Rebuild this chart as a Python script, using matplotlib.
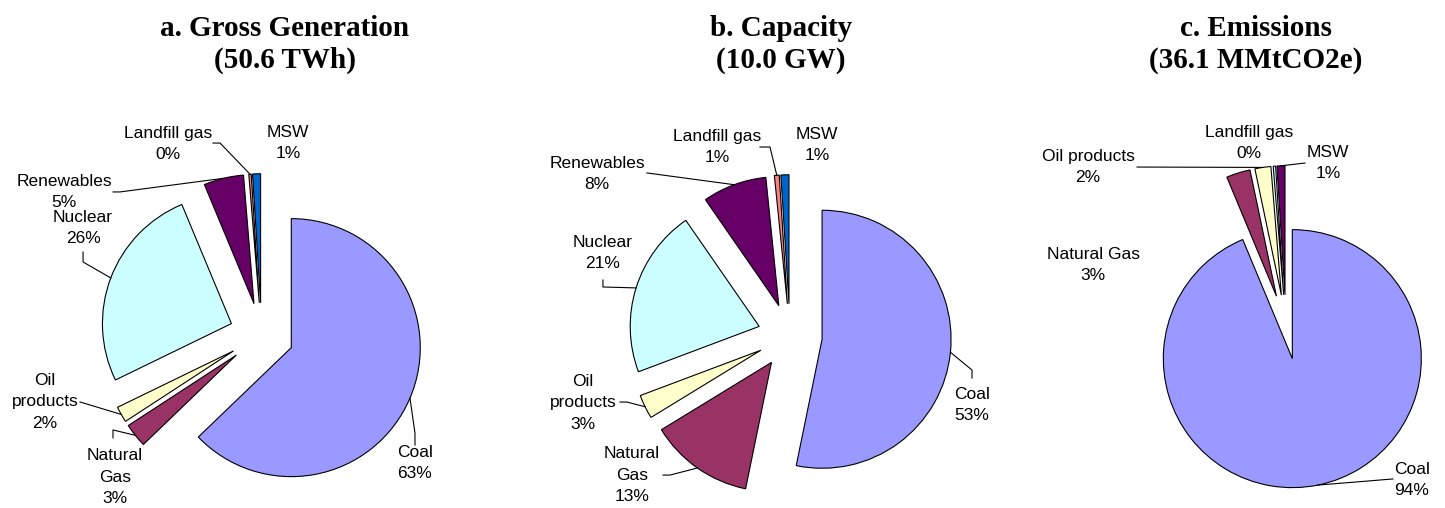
import numpy as np
import matplotlib
matplotlib.use("Agg")
import matplotlib.pyplot as plt

# ---------------------------------------------------------
# DATA (shares in percent)
# ---------------------------------------------------------
cats_ab = ['Coal', 'Natural Gas', 'Oil products', 'Nuclear', 'Renewables', 'Landfill gas', 'MSW']
gen_share = [63, 3, 2, 26, 5, 0.3, 1]
cap_share = [53, 13, 3, 21, 8, 0.6, 1]

cats_c = ['Coal', 'Natural Gas', 'Oil products', 'Landfill gas', 'MSW']
emis_share = [94, 3, 2, 0.3, 1]

titles = ['a. Gross Generation\n(50.6 TWh)',
          'b. Capacity\n(10.0 GW)',
          'c. Emissions\n(36.1 MMtCO2e)']

# Excel-style default palette, assigned by slice position
palette = ['#9999FF', '#993366', '#FFFFCC', '#CCFFFF', '#660066', '#FF8080', '#0066CC']

# ---------------------------------------------------------
# LAYOUT (pixels / data units, not data)
# ---------------------------------------------------------
W, H = 1445, 508
SCALE = 129.0          # pixels per pie radius
HALF = 250             # half size of each axes box in px
centers_px = [(261.6, 335), (790, 336), (1286, 327)]
title_x = [285, 781, 1256]

wrap = {'Natural Gas': 'Natural\nGas', 'Oil products': 'Oil\nproducts'}

# label position, leader-line tail points (to which the wedge point is appended)
layout_a = {
    'Coal':         ((1.189, -0.992), [(1.189, -0.853), (1.189, -0.76)]),
    'Natural Gas':  ((-1.136, -1.101), [(-1.152, -0.798), (-1.152, -0.736)]),
    'Oil products': ((-1.679, -0.519), [(-1.408, -0.519)]),
    'Nuclear':      ((-1.384, 0.829), [(-1.384, 0.643), (-1.384, 0.566)]),
    'Renewables':   ((-1.531, 1.109), [(-1.151, 1.109), (-1.098, 1.109)]),
    'Landfill gas': ((-0.726, 1.481), [(-0.377, 1.488), (-0.322, 1.488)]),
    'MSW':          ((0.205, 1.488), []),
}
layout_b = {
    'Coal':         ((1.411, -0.535), [(1.411, -0.326), (1.411, -0.264)]),
    'Natural Gas':  ((-1.225, -1.078), [(-0.984, -1.078), (-0.930, -1.078)]),
    'Oil products': ((-1.605, -0.519), [(-1.318, -0.512), (-1.264, -0.512)]),
    'Nuclear':      ((-1.450, 0.643), [(-1.450, 0.434), (-1.450, 0.380)]),
    'Renewables':   ((-1.496, 1.256), [(-1.109, 1.264)]),
    'Landfill gas': ((-0.566, 1.465), [(-0.233, 1.465), (-0.155, 1.465)]),
    'MSW':          ((0.209, 1.481), []),
}
layout_c = {
    'Coal':         ((0.977, -1.186), [(0.829, -1.178)]),
    'Natural Gas':  ((-1.496, 0.481), []),
    'Oil products': ((-1.535, 1.240), [(-1.155, 1.240)]),
    'Landfill gas': ((-0.287, 1.426), []),
    'MSW':          ((0.326, 1.271), [(0.147, 1.271)]),
}

label_font = dict(family=['Liberation Sans', 'DejaVu Sans'], size=12.5)


def draw_pie(fig, center_px, cats, vals, layout, wrapped):
    cx, cy = center_px
    rect = [(cx - HALF) / W, (H - cy - HALF) / H, 2 * HALF / W, 2 * HALF / H]
    ax = fig.add_axes(rect)
    wedges, _ = ax.pie(vals, colors=palette[:len(vals)], explode=[0.25] * len(vals),
                       startangle=90, counterclock=False, radius=1.0,
                       wedgeprops=dict(edgecolor='black', linewidth=0.8))
    lim = HALF / SCALE
    ax.set_xlim(-lim, lim)
    ax.set_ylim(-lim, lim)
    ax.set_aspect('equal')
    ax.axis('off')

    total = sum(vals)
    for w, name, v in zip(wedges, cats, vals):
        (tx, ty), tail = layout[name]
        text = wrap[name] if (wrapped and name in wrap) else name
        ax.text(tx, ty, f"{text}\n{v / total * 100:.0f}%", ha='center', va='center',
                multialignment='center', linespacing=1.55, clip_on=False, **label_font)
        if tail:
            mid = np.radians((w.theta1 + w.theta2) / 2)
            ex = w.center[0] + w.r * np.cos(mid)
            ey = w.center[1] + w.r * np.sin(mid)
            xs = [p[0] for p in tail] + [ex]
            ys = [p[1] for p in tail] + [ey]
            ax.plot(xs, ys, color='black', lw=0.8, clip_on=False)
    return ax


fig = plt.figure(figsize=(W / 100, H / 100), dpi=100)
draw_pie(fig, centers_px[0], cats_ab, gen_share, layout_a, True)
draw_pie(fig, centers_px[1], cats_ab, cap_share, layout_b, True)
draw_pie(fig, centers_px[2], cats_c, emis_share, layout_c, False)

for t, x in zip(titles, title_x):
    fig.text(x / W, 1 - 15 / H, t, ha='center', va='top', fontsize=21, fontweight='bold',
             family=['Liberation Serif', 'DejaVu Serif'], linespacing=1.2)

fig.savefig('out.png', dpi=100)
